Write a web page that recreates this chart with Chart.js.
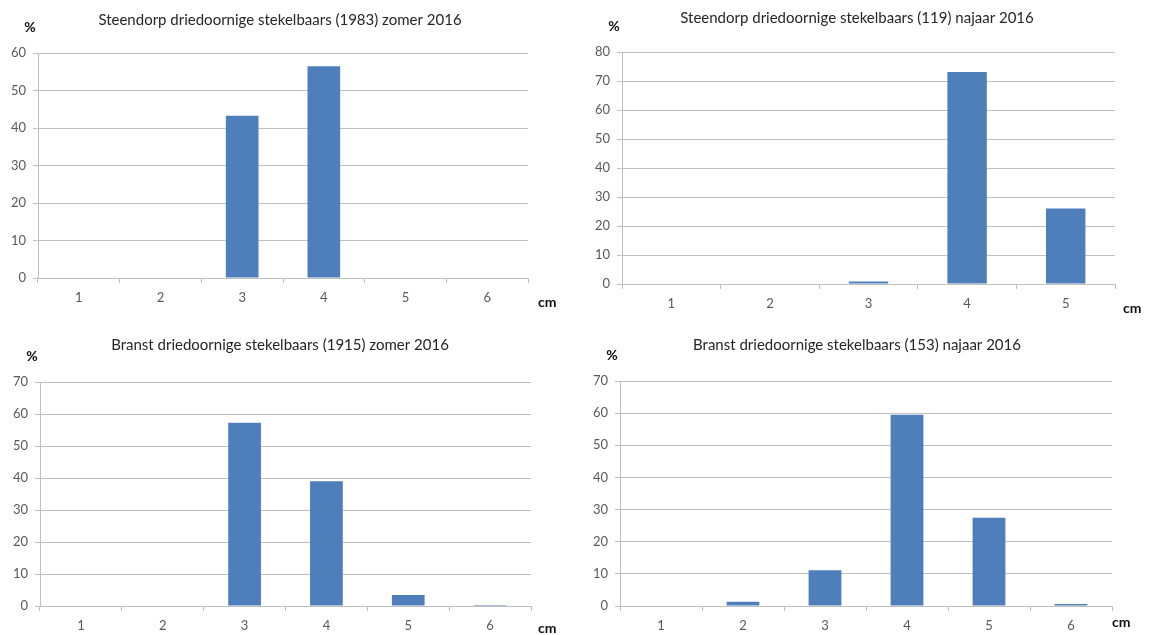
<!DOCTYPE html>
<html>
<head>
<meta charset="utf-8">
<script src="https://cdn.jsdelivr.net/npm/chart.js@4.4.0/dist/chart.umd.min.js"></script>
<style>
  body { margin: 0; background: #fff; }
  .wrap { position: relative; width: 1149px; height: 635px; }
  canvas { position: absolute; }
</style>
</head>
<body>
<div class="wrap">
  <canvas id="c1" width="575" height="320" style="left:0;top:0"></canvas>
  <canvas id="c2" width="574" height="320" style="left:575px;top:0"></canvas>
  <canvas id="c3" width="575" height="315" style="left:0;top:320px"></canvas>
  <canvas id="c4" width="574" height="315" style="left:575px;top:320px"></canvas>
</div>
<script>
// length classes (cm)
const lengths6 = ['1', '2', '3', '4', '5', '6'];
const lengths5 = ['1', '2', '3', '4', '5'];

// percentages per length class
const steendorpZomer = [0, 0, 43.3, 56.5, 0, 0];
const steendorpNajaar = [0, 0, 0.84, 73.1, 26.05];
const branstZomer = [0, 0, 57.3, 39.0, 3.4, 0.3];
const branstNajaar = [0, 1.3, 11.1, 59.5, 27.45, 0.65];

const titles = [
  'Steendorp driedoornige stekelbaars (1983) zomer 2016',
  'Steendorp driedoornige stekelbaars (119) najaar 2016',
  'Branst driedoornige stekelbaars (1915) zomer 2016',
  'Branst driedoornige stekelbaars (153) najaar 2016'
];
const yMax = [60, 80, 70, 70];

const FONT = 'Lato, "Open Sans", sans-serif';
const GRID = '#c0c0c0';

// draws the title, "%" and "cm" labels
const axisLabels = {
  id: 'axisLabels',
  afterDraw(chart, args, opts) {
    const { ctx, chartArea } = chart;
    ctx.save();
    ctx.fillStyle = '#262626';
    ctx.font = '15px ' + FONT;
    ctx.textAlign = 'center';
    ctx.textBaseline = 'middle';
    ctx.fillText(opts.title, opts.titleX, opts.titleY);

    ctx.font = 'bold 14px ' + FONT;
    ctx.fillStyle = '#111';
    ctx.fillText('%', chartArea.left - 8, chartArea.top - 26);
    ctx.textAlign = 'left';
    ctx.fillText('cm', chartArea.right + opts.cmDx, chartArea.bottom + opts.cmDy);
    ctx.restore();
  }
};

function makeChart(id, labels, values, max, box, text) {
  const ctx = document.getElementById(id).getContext('2d');
  return new Chart(ctx, {
    type: 'bar',
    data: {
      labels: labels,
      datasets: [{
        data: values,
        backgroundColor: '#4f7fba',
        borderWidth: 0,
        barPercentage: 0.4,
        categoryPercentage: 1
      }]
    },
    options: {
      responsive: false,
      animation: false,
      layout: {
        padding: { top: box.top, right: box.right, left: 0, bottom: 0 }
      },
      plugins: {
        legend: { display: false },
        tooltip: { enabled: false },
        axisLabels: {
          title: text,
          titleX: box.titleX,
          titleY: box.titleY,
          cmDx: box.cmDx,
          cmDy: box.cmDy
        }
      },
      scales: {
        x: {
          grid: {
            drawOnChartArea: false,
            drawTicks: true,
            tickLength: 5,
            color: GRID,
            offset: true
          },
          border: { color: GRID },
          ticks: {
            color: '#595959',
            font: { family: FONT, size: 13 },
            padding: 7,
            maxRotation: 0
          },
          afterFit: scale => { scale.height = box.bottom; }
        },
        y: {
          min: 0,
          max: max,
          grid: { color: GRID, tickLength: 5 },
          border: { color: GRID },
          ticks: {
            stepSize: 10,
            color: '#595959',
            font: { family: FONT, size: 13 },
            padding: 7
          },
          afterFit: scale => { scale.width = box.left; }
        }
      }
    },
    plugins: [axisLabels]
  });
}

makeChart('c1', lengths6, steendorpZomer, yMax[0],
  { left: 38, right: 47, top: 53, bottom: 42, titleX: 280, titleY: 20, cmDx: 10, cmDy: 24 }, titles[0]);
makeChart('c2', lengths5, steendorpNajaar, yMax[1],
  { left: 47, right: 34, top: 52, bottom: 36, titleX: 282, titleY: 18, cmDx: 8, cmDy: 24 }, titles[1]);
makeChart('c3', lengths6, branstZomer, yMax[2],
  { left: 40, right: 44, top: 62, bottom: 29, titleX: 280, titleY: 25, cmDx: 7, cmDy: 22 }, titles[2]);
makeChart('c4', lengths6, branstNajaar, yMax[3],
  { left: 45, right: 37, top: 61, bottom: 29, titleX: 282, titleY: 25, cmDx: 0, cmDy: 16 }, titles[3]);
</script>
</body>
</html>
